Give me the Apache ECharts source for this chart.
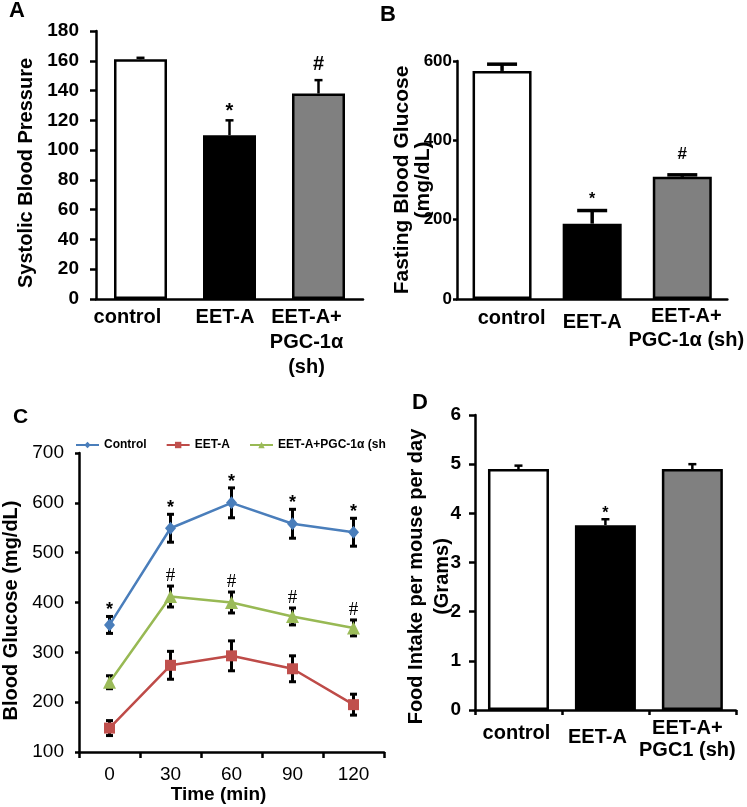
<!DOCTYPE html>
<html>
<head>
<meta charset="utf-8">
<script src="https://cdn.jsdelivr.net/npm/echarts@6/dist/echarts.min.js"></script>
<style>
  html, body { margin: 0; padding: 0; background: #fff; }
  #chart { width: 747px; height: 807px; }
</style>
</head>
<body>
<div id="chart"></div>
<script>
// ---- data ----
var groupsA = ['control', 'EET-A', 'EET-A+\nPGC-1α\n(sh)'];
var sbp = [161, 110, 138];
var sbpErr = [1, 10, 9];
var sbpSig = ['', '*', '#'];

var groupsB = ['control', 'EET-A', 'EET-A+\nPGC-1α (sh)'];
var fbg = [575, 190, 308];
var fbgErr = [17, 33, 5];
var fbgSig = ['', '*', '#'];

var times = ['0', '30', '60', '90', '120'];
var gluControl = [355, 549, 600, 558, 541];
var gluControlErr = [17, 28, 30, 29, 28];
var gluEet = [148, 274, 293, 267, 195];
var gluEetErr = [15, 28, 30, 26, 21];
var gluPgc = [240, 412, 400, 372, 349];
var gluPgcErr = [13, 21, 21, 17, 16];
var controlSig = ['*', '*', '*', '*', '*'];
var eetSig = ['', '', '', '', ''];
var pgcSig = ['', '#', '#', '#', '#'];
var lineNames = ['Control', 'EET-A', 'EET-A+PGC-1α (sh)'];

var groupsD = ['control', 'EET-A', 'EET-A+\nPGC1 (sh)'];
var food = [4.9, 3.76, 4.9];
var foodErr = [0.07, 0.12, 0.1];
var foodSig = ['', '*', ''];

var barFills = ['#ffffff', '#000000', '#808080'];

var font = '"Liberation Sans", Arial, Helvetica, sans-serif';

// category labels with small nudges (padding) to sit like the original
function cats(list, pads) {
  return list.map(function (c, i) {
    return { value: c, textStyle: { padding: pads[i] } };
  });
}

// error bars + significance marks, drawn through the axes
function errSeries(gi, vals, errs, sig, o) {
  return {
    type: 'custom',
    xAxisIndex: gi,
    yAxisIndex: gi,
    z: o.z || 5,
    silent: true,
    data: vals.map(function (v, i) { return [i, v, errs[i]]; }),
    encode: { x: 0, y: 1 },
    renderItem: function (params, api) {
      var i = api.value(0), v = api.value(1), e = api.value(2);
      var hi = api.coord([i, v + e]);
      var lo = api.coord([i, o.both ? v - e : v]);
      var h = o.cap / 2;
      var st = { stroke: '#000', lineWidth: o.lw };
      var kids = [
        { type: 'line', shape: { x1: hi[0], y1: hi[1], x2: lo[0], y2: lo[1] }, style: st },
        { type: 'line', shape: { x1: hi[0] - h, y1: hi[1], x2: hi[0] + h, y2: hi[1] }, style: st }
      ];
      if (o.both) {
        kids.push({ type: 'line', shape: { x1: lo[0] - h, y1: lo[1], x2: lo[0] + h, y2: lo[1] }, style: st });
      }
      var s = sig[params.dataIndex];
      if (s) {
        kids.push({
          type: 'text',
          style: {
            text: s,
            x: hi[0],
            y: hi[1] - (s === '*' ? o.starOff : o.hashOff),
            textAlign: 'center',
            textVerticalAlign: 'middle',
            font: s === '*' ? o.starFont : o.hashFont,
            fill: '#000'
          }
        });
      }
      return { type: 'group', children: kids };
    }
  };
}

function barSeries(gi, vals, width) {
  return {
    type: 'bar',
    xAxisIndex: gi,
    yAxisIndex: gi,
    data: vals,
    barWidth: width,
    z: 3,
    itemStyle: {
      color: function (p) { return barFills[p.dataIndex]; },
      borderColor: '#000',
      borderWidth: 2.5
    }
  };
}

var axisLine = { show: true, lineStyle: { color: '#000', width: 2.5 } };
var cErr = { z: 3, both: true, cap: 7, lw: 3, starOff: 6, hashOff: 10,
  starFont: 'bold 18px ' + font, hashFont: '19px "Liberation Serif", serif' };

var chart = echarts.init(document.getElementById('chart'));
chart.setOption({
  animation: false,
  textStyle: { fontFamily: font },
  graphic: [
    { type: 'text', left: 9, top: 0, style: { text: 'A', font: 'bold 22px ' + font, fill: '#000' } },
    { type: 'text', left: 380, top: 4, style: { text: 'B', font: 'bold 22px ' + font, fill: '#000' } },
    { type: 'text', left: 13, top: 407, style: { text: 'C', font: 'bold 21px ' + font, fill: '#000' } },
    { type: 'text', left: 412, top: 392, style: { text: 'D', font: 'bold 22px ' + font, fill: '#000' } }
  ],
  legend: {
    left: 75,
    top: 439,
    padding: 0,
    itemWidth: 23,
    itemHeight: 8,
    itemGap: 19,
    textStyle: { fontSize: 12, fontWeight: 'bold', color: '#000', fontFamily: font },
    data: [
      { name: lineNames[0] },
      { name: lineNames[1] },
      { name: lineNames[2], textStyle: { width: 111, overflow: 'truncate', ellipsis: '' } }
    ]
  },
  grid: [
    { left: 96, top: 31, width: 267, height: 268 },
    { left: 457, top: 61, width: 271, height: 238 },
    { left: 75, top: 453, width: 309, height: 299 },
    { left: 475, top: 415, width: 271, height: 295 }
  ],
  xAxis: [
    {
      gridIndex: 0, type: 'category', data: cats(groupsA, [[0, 26, 0, 0], [0, 9, 0, 0], [0, 24, 0, 0]]),
      axisLine: axisLine, axisTick: { show: false },
      axisLabel: { color: '#000', fontSize: 20, fontWeight: 'bold', lineHeight: 25, margin: 6, interval: 0 }
    },
    {
      gridIndex: 1, type: 'category', data: cats(groupsB, [[2, 0, 0, 19], [6, 0, 0, 0], [0, 0, 0, 8]]),
      axisLine: axisLine, axisTick: { show: false },
      axisLabel: { color: '#000', fontSize: 20, fontWeight: 'bold', lineHeight: 24, margin: 5, interval: 0 }
    },
    {
      gridIndex: 2, type: 'category', data: times,
      axisLine: axisLine,
      axisTick: { show: true, length: 6, lineStyle: { color: '#000', width: 2.5 } },
      axisLabel: { color: '#000', fontSize: 19, margin: 13 },
      name: 'Time (min)', nameLocation: 'middle', nameGap: 33, nameMoveOverlap: false,
      nameTextStyle: { color: '#000', fontSize: 19, fontWeight: 'bold', padding: [0, 26, 0, 0] }
    },
    {
      gridIndex: 3, type: 'category', data: cats(groupsD, [[5, 4, 0, 0], [9, 16, 0, 0], [0, 10, 0, 0]]),
      axisLine: axisLine,
      axisTick: { show: true, length: 5, lineStyle: { color: '#000', width: 2.5 } },
      axisLabel: { color: '#000', fontSize: 20, fontWeight: 'bold', lineHeight: 22, margin: 7, interval: 0 }
    }
  ],
  yAxis: [
    {
      gridIndex: 0, type: 'value', min: 0, max: 180, interval: 20,
      axisLine: axisLine,
      axisTick: { show: true, length: 6, lineStyle: { color: '#000', width: 2.5 } },
      splitLine: { show: false },
      axisLabel: { color: '#000', fontSize: 19, fontWeight: 'bold', margin: 17 },
      name: 'Systolic Blood Pressure', nameLocation: 'middle', nameGap: 60, nameMoveOverlap: false,
      nameTextStyle: { color: '#000', fontSize: 20, fontWeight: 'bold', padding: [0, 16, 0, 0] }
    },
    {
      gridIndex: 1, type: 'value', min: 0, max: 600, interval: 200,
      axisLine: axisLine,
      axisTick: { show: true, length: 4, lineStyle: { color: '#000', width: 2.5 } },
      splitLine: { show: false },
      axisLabel: {
        color: '#000', fontSize: 17, fontWeight: 'bold', margin: 5,
        fontFamily: '"Liberation Sans Narrow", "Arial Narrow", "Liberation Sans", sans-serif'
      },
      name: 'Fasting Blood Glucose\n(mg/dL)', nameLocation: 'middle', nameGap: 23, nameMoveOverlap: false,
      nameTextStyle: { color: '#000', fontSize: 21, fontWeight: 'bold', lineHeight: 21 }
    },
    {
      gridIndex: 2, type: 'value', min: 100, max: 700, interval: 100,
      axisLine: axisLine,
      axisTick: { show: true, length: 4, lineStyle: { color: '#000', width: 2.5 } },
      splitLine: { show: false },
      axisLabel: { color: '#000', fontSize: 19, margin: 15 },
      name: 'Blood Glucose (mg/dL)', nameLocation: 'middle', nameGap: 58, nameMoveOverlap: false,
      nameTextStyle: { color: '#000', fontSize: 20, fontWeight: 'bold', padding: [0, 16, 0, 0] }
    },
    {
      gridIndex: 3, type: 'value', min: 0, max: 6, interval: 1,
      axisLine: axisLine,
      axisTick: { show: true, length: 6, lineStyle: { color: '#000', width: 2.5 } },
      splitLine: { show: false },
      axisLabel: { color: '#000', fontSize: 19, fontWeight: 'bold', margin: 14 },
      name: 'Food Intake per mouse per day\n(Grams)', nameLocation: 'middle', nameGap: 20, nameMoveOverlap: false,
      nameTextStyle: { color: '#000', fontSize: 20, fontWeight: 'bold', lineHeight: 26, padding: [0, 28, 0, 0] }
    }
  ],
  series: [
    // A
    barSeries(0, sbp, 53),
    errSeries(0, sbp, sbpErr, sbpSig,
      { cap: 8, lw: 2.5, starOff: 9, hashOff: 16, starFont: 'bold 20px ' + font, hashFont: 'bold 20px ' + font }),
    // B
    barSeries(1, fbg, 59),
    errSeries(1, fbg, fbgErr, fbgSig,
      { cap: 30, lw: 3.5, starOff: 11, hashOff: 21, starFont: 'bold 16px ' + font, hashFont: 'bold 17px ' + font }),
    // C
    {
      type: 'line', name: lineNames[0], xAxisIndex: 2, yAxisIndex: 2, data: gluControl, z: 4,
      symbol: 'diamond', symbolSize: [11, 13], color: '#4a7ebb',
      lineStyle: { width: 2.5, color: '#4a7ebb' }, itemStyle: { color: '#4a7ebb' }
    },
    {
      type: 'line', name: lineNames[1], xAxisIndex: 2, yAxisIndex: 2, data: gluEet, z: 4,
      symbol: 'rect', symbolSize: 11, color: '#be4b48',
      lineStyle: { width: 2.5, color: '#be4b48' }, itemStyle: { color: '#c0504d' }
    },
    {
      type: 'line', name: lineNames[2], xAxisIndex: 2, yAxisIndex: 2, data: gluPgc, z: 4,
      symbol: 'triangle', symbolSize: 13, color: '#98b954',
      lineStyle: { width: 2.5, color: '#98b954' }, itemStyle: { color: '#9bbb59' }
    },
    errSeries(2, gluControl, gluControlErr, controlSig, cErr),
    errSeries(2, gluEet, gluEetErr, eetSig, cErr),
    errSeries(2, gluPgc, gluPgcErr, pgcSig, cErr),
    // D
    barSeries(3, food, 61),
    errSeries(3, food, foodErr, foodSig,
      { cap: 8, lw: 2.5, starOff: 6, hashOff: 10, starFont: 'bold 16px ' + font, hashFont: 'bold 16px ' + font })
  ]
});
</script>
</body>
</html>
